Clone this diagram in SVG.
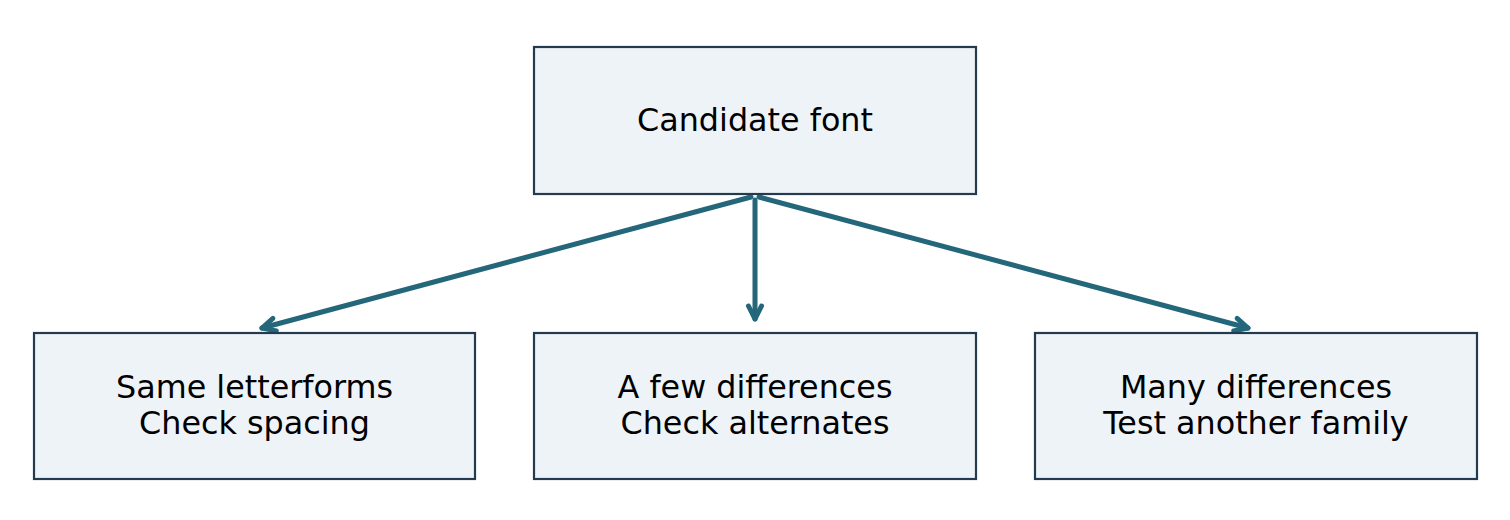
<svg xmlns="http://www.w3.org/2000/svg" width="1510" height="520" viewBox="0 0 1510 520">
<style>
.box{fill:#eef3f7;stroke:#243b4f;stroke-width:2.2}
.lbl{font-family:"DejaVu Sans",sans-serif;font-size:31.8px;fill:#000;text-anchor:middle}
.edge{fill:none;stroke:#24667a;stroke-width:5;stroke-linecap:round;stroke-linejoin:round}
</style>
<defs>
<marker id="arr" markerUnits="userSpaceOnUse" markerWidth="30" markerHeight="30" viewBox="-15 -15 30 30" refX="0" refY="0" orient="auto" overflow="visible">
<path d="M-13,-6.5 L0,0 L-13,6.5" fill="none" stroke="#24667a" stroke-width="5" stroke-linecap="round" stroke-linejoin="round"/>
</marker>
</defs>
<rect width="1510" height="520" fill="#fff"/>
<g id="edges">
<path class="edge" d="M751,197 L262,328" marker-end="url(#arr)"/>
<path class="edge" d="M755,200 L755,319" marker-end="url(#arr)"/>
<path class="edge" d="M759,197 L1248,328" marker-end="url(#arr)"/>
</g>
<g id="n0"><rect class="box" x="534" y="47" width="442" height="147"/><text class="lbl" x="755" y="131">Candidate font</text></g>
<g id="n1"><rect class="box" x="34" y="333" width="441" height="146"/><text class="lbl" x="254.5" y="398">Same letterforms</text><text class="lbl" x="254.5" y="434">Check spacing</text></g>
<g id="n2"><rect class="box" x="534" y="333" width="442" height="146"/><text class="lbl" x="755" y="398">A few differences</text><text class="lbl" x="755" y="434">Check alternates</text></g>
<g id="n3"><rect class="box" x="1035" y="333" width="442" height="146"/><text class="lbl" x="1256" y="398">Many differences</text><text class="lbl" x="1256" y="434">Test another family</text></g>
</svg>
